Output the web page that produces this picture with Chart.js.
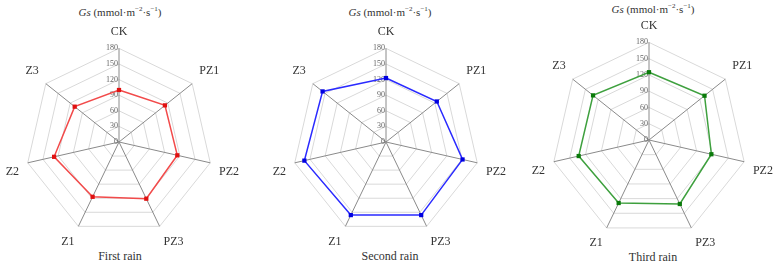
<!DOCTYPE html>
<html>
<head>
<meta charset="utf-8">
<script src="https://cdn.jsdelivr.net/npm/chart.js@4"></script>
<style>
  body { margin: 0; background: #fff; width: 780px; height: 265px; position: relative; overflow: hidden; font-family: "Liberation Serif", "Times New Roman", serif; }
  .box { position: absolute; }
  .ttl { position: absolute; font-size: 11px; color: #333; text-align: center; white-space: nowrap; }
  .ttl sup { font-size: 7px; }
  .sub { position: absolute; font-size: 12px; color: #333; text-align: center; white-space: nowrap; }
</style>
</head>
<body>
<div class="ttl" style="left:60px;top:5px;width:120px"><i>Gs</i> (mmol·m<sup>−2</sup>·s<sup>−1</sup>)</div>
<div class="ttl" style="left:330px;top:5px;width:120px"><i>Gs</i> (mmol·m<sup>−2</sup>·s<sup>−1</sup>)</div>
<div class="ttl" style="left:593px;top:2px;width:120px"><i>Gs</i> (mmol·m<sup>−2</sup>·s<sup>−1</sup>)</div>
<div class="sub" style="left:60px;top:249px;width:120px">First rain</div>
<div class="sub" style="left:330px;top:249px;width:120px">Second rain</div>
<div class="sub" style="left:593px;top:250px;width:120px">Third rain</div>

<div class="box" style="left:0px;top:20px;width:245px;height:234px"><canvas id="c1"></canvas></div>
<div class="box" style="left:265px;top:20px;width:250px;height:234px"><canvas id="c2"></canvas></div>
<div class="box" style="left:525px;top:14px;width:255px;height:242px"><canvas id="c3"></canvas></div>

<script>
// treatments round the radar, clockwise from the top
const labels = ["CK", "PZ1", "PZ2", "PZ3", "Z1", "Z2", "Z3"];
const tickValues = [0, 30, 60, 90, 120, 150, 180];

// Gs values
const firstRain = [100, 113, 115, 121, 117, 128, 109];
const secondRain = [123, 125, 151, 156, 156, 161, 156];
const thirdRain = [125, 131, 118, 131, 129, 133, 132];

const serif = '"Liberation Serif", "Times New Roman", "DejaVu Serif", serif';
Chart.defaults.font.family = serif;

// tick numbers sit left of the CK axis, not centred on it
const sideTicks = {
  id: "sideTicks",
  beforeDatasetsDraw(chart) {
    const scale = chart.scales.r;
    const ctx = chart.ctx;
    ctx.save();
    ctx.font = "8px " + serif;
    ctx.fillStyle = "#666";
    ctx.textAlign = "right";
    ctx.textBaseline = "middle";
    tickValues.forEach((v) => {
      const p = scale.getPointPositionForValue(0, v);
      ctx.fillText(String(v), p.x - 1, p.y);
    });
    ctx.restore();
  }
};

function makeRadar(id, data, line, dot) {
  new Chart(document.getElementById(id), {
    type: "radar",
    data: {
      labels: labels,
      datasets: [{
        data: data,
        borderColor: line,
        borderWidth: 1.5,
        backgroundColor: "rgba(0,0,0,0)",
        pointStyle: "rect",
        pointRadius: 3,
        pointBackgroundColor: dot,
        pointBorderColor: dot,
        pointBorderWidth: 0
      }]
    },
    options: {
      responsive: true,
      maintainAspectRatio: false,
      animation: false,
      plugins: { legend: { display: false }, tooltip: { enabled: false } },
      layout: { padding: 0 },
      scales: {
        r: {
          min: 0,
          max: 180,
          ticks: { stepSize: 30, display: false },
          grid: { color: "#d9d9d9", lineWidth: 1 },
          angleLines: { color: "#8a8a8a", lineWidth: 1 },
          pointLabels: {
            padding: 9,
            color: "#333",
            font: { family: serif, size: 12 }
          }
        }
      }
    },
    plugins: [sideTicks]
  });
}

makeRadar("c1", firstRain, "#f24a4a", "#e01010");
makeRadar("c2", secondRain, "#2a2aff", "#0000e0");
makeRadar("c3", thirdRain, "#3ea03e", "#0a7a0a");
</script>
</body>
</html>
